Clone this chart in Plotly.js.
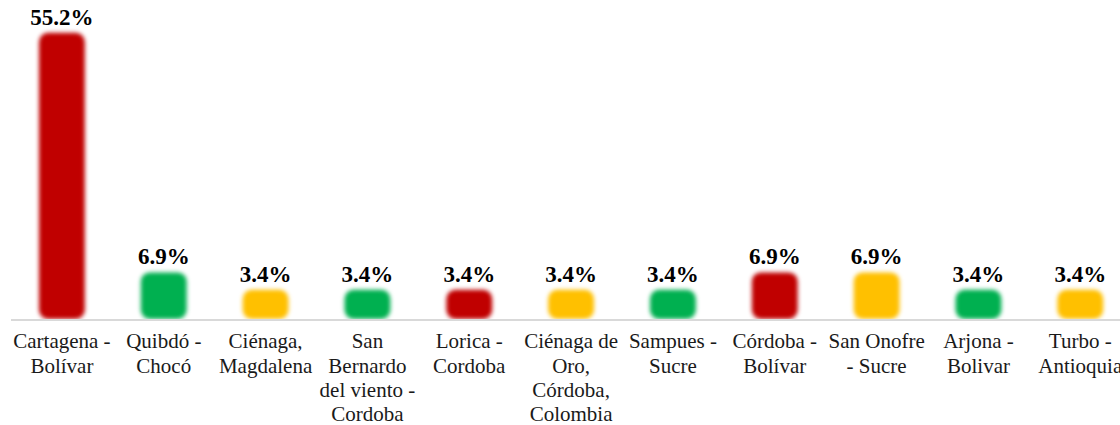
<!DOCTYPE html>
<html>
<head>
<meta charset="utf-8">
<script src="https://cdn.plot.ly/plotly-3.0.1.min.js"></script>
<style>
html,body{margin:0;padding:0;background:#fff;}
#chart{width:1120px;height:425px;}
.barlayer .point path{filter:blur(2px);}
</style>
</head>
<body>
<div id="chart"></div>
<script>
const categories = [
  "Cartagena -<br>Bolívar",
  "Quibdó -<br>Chocó",
  "Ciénaga,<br>Magdalena",
  "San<br>Bernardo<br>del viento -<br>Cordoba",
  "Lorica -<br>Cordoba",
  "Ciénaga de<br>Oro,<br>Córdoba,<br>Colombia",
  "Sampues -<br>Sucre",
  "Córdoba -<br>Bolívar",
  "San Onofre<br>- Sucre",
  "Arjona -<br>Bolivar",
  "Turbo -<br>Antioquia"
];
const values = [55.2, 6.9, 3.4, 3.4, 3.4, 3.4, 3.4, 6.9, 6.9, 3.4, 3.4];
const colorNames = ["red","green","yellow","green","red","yellow","green","red","yellow","green","yellow"];

const palette = {red:"#C00000", green:"#00B050", yellow:"#FFC000"};
const axisMin = -2.5;
const serif = "Liberation Serif";

const trace = {
  type: "bar",
  x: categories,
  y: values.map(v => v - axisMin),
  base: axisMin,
  customdata: values,
  texttemplate: "%{customdata:.1f}%",
  textposition: "outside",
  cliponaxis: false,
  constraintext: "none",
  textfont: {family: serif, size: 23, color: "#000", weight: "bold"},
  marker: {color: colorNames.map(c => palette[c]), cornerradius: 9},
  width: 0.45,
  hoverinfo: "none"
};

const layout = {
  width: 1120, height: 425,
  margin: {l: 11, r: 0, t: 10, b: 106},
  paper_bgcolor: "#fff", plot_bgcolor: "#fff",
  showlegend: false,
  font: {family: serif},
  xaxis: {
    type: "category",
    range: [-0.5, 10.39],
    showline: true, linecolor: "#d9d9d9", linewidth: 2,
    showgrid: false, zeroline: false, ticks: "",
    ticklabelstandoff: 2,
    tickfont: {family: serif, size: 21, color: "#1a1a1a"}
  },
  yaxis: {
    range: [axisMin, 59.8],
    visible: false, showgrid: false, zeroline: false
  }
};

Plotly.newPlot("chart", [trace], layout, {displayModeBar: false, staticPlot: true}).then(gd => {
  const k = 1.16 / 1.3;
  gd.querySelectorAll(".xtick text tspan.line").forEach(t => {
    const dy = parseFloat(t.getAttribute("dy"));
    if (dy) t.setAttribute("dy", (dy * k).toFixed(3) + "em");
  });
});
</script>
</body>
</html>
